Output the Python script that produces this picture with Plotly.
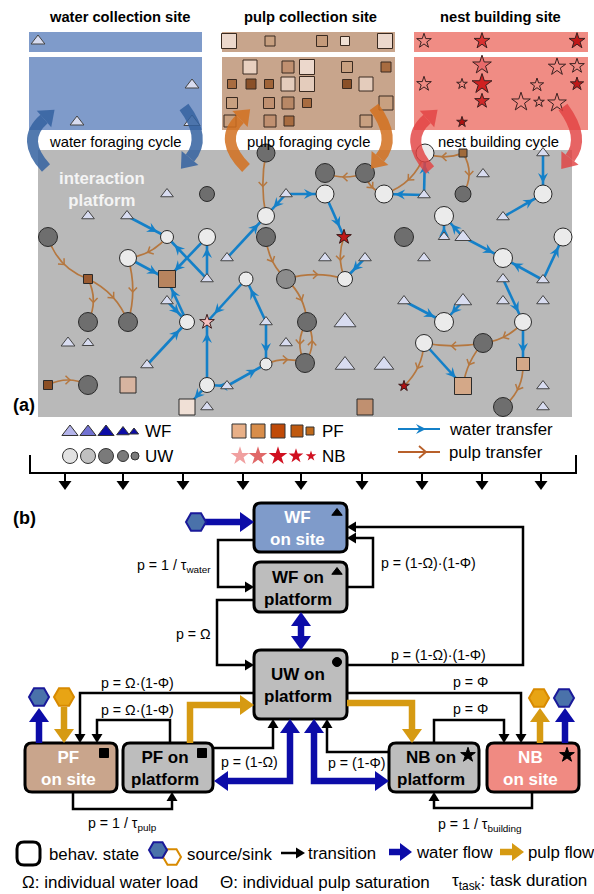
import math
import plotly.graph_objects as go

FONT = "Liberation Sans, Arial, Helvetica, sans-serif"

# ---------------- panel (a): sites ----------------
SITE_TITLES = ["water collection site", "pulp collection site", "nest building site"]
SITE_TITLE_X = [119, 310, 500]
SITE_X0 = [29, 222, 414]
SITE_X1 = [202, 395, 588]
SITE_FILL = ["#7f9bca", "#c8a58c", "#f08c84"]
CYCLE_LABELS = ["water foraging cycle", "pulp foraging cycle", "nest building cycle"]
CYCLE_LABEL_X = [115, 308, 498]
CYCLE_COLORS = ["rgba(52,98,160,0.85)", "rgba(210,112,30,0.85)", "rgba(226,66,66,0.82)"]
# (start, control, end) of each curved cycle arrow
CYCLE_ARROWS = [
    ((46, 168), (20, 140), (44, 119), 0), ((184, 107), (207, 138), (190, 158), 0),
    ((246, 168), (218, 140), (240, 119), 1), ((374, 107), (397, 138), (380, 158), 1),
    ((430, 170), (403, 140), (427, 119), 2), ((563, 107), (586, 138), (570, 158), 2),
]

SITE_TRI = [(38, 41, 12), (192, 85, 12), (77, 122, 12), (192, 122, 14)]
SITE_SQ = [
    (229, 41, 15, "#ecd8cc"), (270, 41, 10, "#c8a080"), (322, 41, 11, "#c49a7a"),
    (345, 41, 9, "#f0e0d4"), (385, 41, 15, "#ecd8cc"),
    (250, 67, 14, "#e8d0c0"), (288, 67, 12, "#c09070"), (232, 84, 9, "#a86c40"),
    (251, 84, 10, "#8a5028"), (269, 84, 9, "#a06438"), (288, 84, 14, "#e4ccbc"),
    (232, 103, 11, "#c8a080"), (269, 103, 11, "#c09070"), (288, 103, 12, "#b88866"),
    (230, 121, 12, "#c8a080"), (270, 121, 12, "#c09070"), (289, 121, 10, "#a86c40"),
    (307, 67, 15, "#ecd8cc"), (347, 67, 11, "#c8a080"), (386, 67, 10, "#a86c40"),
    (307, 84, 15, "#e4ccbc"), (347, 84, 9, "#8a5028"), (366, 84, 14, "#e4ccbc"),
    (307, 103, 9, "#a86c40"), (386, 103, 14, "#c8a080"), (366, 121, 12, "#c8a080"),
]
SITE_STARS = [
    (424, 41, 11, None), (482, 41, 12, "#d83030"), (577, 41, 12, "#c01818"),
    (482, 65, 14, "#e86a6a"), (557, 67, 13, None), (577, 66, 11, None),
    (424, 84, 11, None), (462, 84, 8, None), (482, 84, 15, "#d02020"),
    (537, 85, 10, None), (577, 84, 10, "#c01818"), (482, 101, 11, "#d02828"),
    (521, 102, 14, None), (539, 102, 8, None), (557, 103, 14, None),
    (462, 122, 8, "#b01010"),
]

# ---------------- panel (a): interaction platform ----------------
PLAT_TRI = [
    (167, 194, 11), (88, 216, 11), (127, 216, 11), (227, 258, 11), (207, 279, 11),
    (167, 301, 11), (266, 322, 11), (68, 343, 12), (88, 343, 10), (286, 343, 11),
    (147, 365, 11), (227, 386, 11), (207, 407, 11), (286, 194, 11), (483, 174, 11),
    (543, 153, 11), (424, 195, 11), (503, 217, 11), (444, 237, 10), (463, 237, 14),
    (325, 258, 11), (365, 258, 11), (424, 258, 11), (503, 279, 11), (543, 280, 11),
    (404, 301, 11), (463, 301, 15), (503, 301, 11), (543, 301, 11), (345, 322, 19),
    (345, 365, 17), (384, 365, 17), (543, 386, 11), (543, 407, 11),
]
PLAT_LIGHT = [
    (167, 237, 13), (207, 237, 17), (128, 258, 17), (246, 279, 14), (187, 322, 15),
    (266, 364, 12), (207, 385, 15), (266, 216, 17), (325, 194, 18), (384, 194, 18),
    (425, 153, 18), (543, 194, 18), (444, 216, 19), (563, 237, 18), (503, 258, 19),
    (345, 279, 15), (444, 322, 19), (523, 322, 17), (424, 343, 17),
]
PLAT_DARK = [
    (207, 194, 15), (48, 237, 19), (88, 322, 19), (128, 322, 19), (88, 385, 19),
    (266, 153, 18), (266, 237, 19), (307, 322, 19), (305, 363, 19), (325, 173, 19),
    (365, 173, 19), (463, 194, 16), (404, 237, 19), (483, 343, 19), (503, 407, 19),
]
PLAT_MID = [(286, 279, 19)]
PLAT_SQ = [
    (88, 279, 9, "#9a5a30"), (167, 279, 17, "#b8845e"), (48, 385, 9, "#8b4f25"),
    (128, 385, 16, "#d7b4a0"), (187, 407, 16, "#f0e0d6"), (463, 153, 8, "#a06a3a"),
    (523, 364, 13, "#d4a888"), (463, 386, 17, "#d4a888"), (365, 407, 16, "#c09070"),
]
PLAT_STARS = [(207, 322, 11, "#f7c0c0"), (344, 237, 11, "#c01818"), (404, 386, 8, "#b01010")]

WATER_EDGES = [
    (127, 216, 167, 237), (207, 279, 167, 237), (207, 237, 167, 279), (207, 279, 207, 237),
    (128, 258, 167, 279), (187, 322, 167, 279), (167, 301, 187, 322), (147, 365, 187, 322),
    (246, 279, 207, 322), (266, 322, 246, 279), (266, 322, 266, 364), (207, 385, 207, 322),
    (227, 386, 266, 364), (227, 386, 207, 385), (207, 385, 187, 407), (227, 258, 266, 216),
    (286, 194, 266, 216), (286, 194, 325, 194), (325, 194, 344, 237), (365, 258, 345, 279),
    (424, 195, 384, 194), (424, 195, 425, 153), (543, 153, 543, 194), (503, 217, 543, 194),
    (444, 237, 444, 216), (463, 237, 444, 216), (463, 237, 503, 258), (543, 280, 503, 258),
    (543, 280, 563, 237), (503, 279, 523, 322), (404, 301, 444, 322), (463, 301, 444, 322),
    (424, 343, 463, 386), (523, 322, 523, 364),
]
# (x0, y0, x1, y1, bend)
PULP_EDGES = [
    (48, 237, 88, 279, 0.25), (88, 279, 88, 322, -0.25), (88, 279, 128, 322, -0.2),
    (167, 237, 128, 258, -0.2), (128, 258, 128, 322, -0.15), (266, 153, 266, 216, 0.1),
    (266, 237, 286, 279, 0.2), (286, 279, 307, 322, -0.2), (286, 279, 345, 279, -0.15),
    (344, 237, 345, 279, 0.2), (365, 173, 325, 173, -0.2), (365, 173, 384, 194, 0.3),
    (425, 153, 384, 194, -0.25), (463, 153, 425, 153, -0.2), (463, 153, 463, 194, -0.3),
    (523, 322, 483, 343, -0.2), (483, 343, 424, 343, -0.1), (483, 343, 463, 386, 0.15),
    (424, 343, 404, 386, -0.2), (523, 364, 503, 407, -0.25), (48, 385, 88, 385, -0.25),
    (266, 364, 305, 363, -0.2), (307, 322, 305, 363, 0.3), (305, 363, 307, 322, 0.3),
]

# legend of (a)
LEG_TRI = [(70, 14, "#b4b4ea"), (88, 14, "#7272d2"), (106, 14, "#0c0ca6"), (123, 11, "#0c0ca6"), (134, 8, "#0c0ca6")]
LEG_CIRC = [(70, 15, "#e2e2e2"), (88, 15, "#c0c0c0"), (106, 15, "#7a7a7a"), (123, 11, "#7a7a7a"), (135, 8, "#7a7a7a")]
LEG_SQ = [(239, 14, "#e8b088"), (258, 14, "#d88d4a"), (278, 14, "#c04a08"), (297, 12, "#c05a10"), (310, 8, "#c06a1a")]
LEG_STAR = [(240, 14, "#f0a0a0"), (258, 14, "#e06868"), (278, 14, "#d01020"), (296, 11, "#d01020"), (311, 8, "#d01020")]
BRACKET_X = [65, 123, 183, 243, 301, 362, 422, 482, 541]

# ---------------- panel (b) ----------------
BOXES = [
    ("WF<br>on site", 254, 503, 347, 552, "#7f9bca", "white", "triangle-up", 337, 513),
    ("WF on<br>platform", 254, 562, 347, 612, "#bdbdbd", "black", "triangle-up", 337, 572),
    ("UW on<br>platform", 254, 650, 347, 719, "#bdbdbd", "black", "circle", 337, 662),
    ("PF<br>on site", 25, 743, 117, 792, "#c9a58c", "white", "square", 104, 753),
    ("PF on<br>platform", 123, 743, 213, 792, "#bdbdbd", "black", "square", 202, 753),
    ("NB on<br>platform", 389, 743, 479, 792, "#bdbdbd", "black", "star", 468, 755),
    ("NB<br>on site", 487, 743, 579, 792, "#f08a82", "white", "star", 567, 755),
]
TRANSITIONS = [
    [(254, 540), (218, 540), (218, 587), (254, 587)],
    [(254, 600), (217, 600), (217, 665), (254, 665)],
    [(347, 587), (373, 587), (373, 538), (347, 538)],
    [(347, 665), (523, 665), (523, 527), (347, 527)],
    [(254, 693), (80, 693), (80, 743)],
    [(170, 743), (170, 720), (97, 720), (97, 743)],
    [(213, 748), (273, 748), (273, 719)],
    [(73, 792), (73, 809), (172, 809), (172, 792)],
    [(347, 693), (521, 693), (521, 743)],
    [(434, 743), (434, 720), (504, 720), (504, 743)],
    [(389, 752), (327, 752), (327, 719)],
    [(532, 792), (532, 808), (434, 808), (434, 792)],
]
T_LABELS = [
    ("p = 1 / τ<sub>water</sub>", 213, 566, "right"), ("p = Ω", 213, 634, "right"),
    ("p = (1-Ω)·(1-Φ)", 379, 563, "left"), ("p = (1-Ω)·(1-Φ)", 389, 655, "left"),
    ("p = Ω·(1-Φ)", 99, 683, "left"), ("p = Ω·(1-Φ)", 99, 710, "left"),
    ("p = Φ", 451, 682, "left"), ("p = Φ", 451, 709, "left"),
    ("p = (1-Ω)", 219, 762, "left"), ("p = (1-Φ)", 326, 763, "left"),
    ("p = 1 / τ<sub>pulp</sub>", 86, 824, "left"), ("p = 1 / τ<sub>building</sub>", 436, 825, "left"),
]
WATER_FLOWS = [
    ([(205, 522), (254, 522)], False),
    ([(301, 612), (301, 650)], True),
    ([(214, 781), (290, 781), (290, 719)], True),
    ([(314, 719), (314, 781), (389, 781)], True),
    ([(39, 743), (39, 708)], False),
    ([(565, 743), (565, 708)], False),
]
PULP_FLOWS = [
    ([(64, 707), (64, 743)], False),
    ([(190, 743), (190, 705), (254, 705)], False),
    ([(347, 703), (412, 703), (412, 743)], False),
    ([(540, 743), (540, 708)], False),
]
HEX_BLUE = [(196, 522), (39, 697), (564, 698)]
HEX_ORANGE = [(64, 697), (539, 698)]

BLUE = "#1480c8"
BROWN = "#b5773f"
NAVY = "#0c0ca8"
GOLD = "#d69a12"

shapes = []
annotations = []
traces = []


def unit(dx, dy):
    l = math.hypot(dx, dy)
    return dx / l, dy / l


def pstr(pts, close=False):
    s = "M " + " L ".join(f"{x:.2f},{y:.2f}" for x, y in pts)
    return s + (" Z" if close else "")


def add_path(d, color=None, width=0, fill=None, layer="below"):
    shp = dict(type="path", path=d, xref="x", yref="y", layer=layer,
               line=dict(color=color if color else "rgba(0,0,0,0)", width=width))
    if fill:
        shp["fillcolor"] = fill
    shapes.append(shp)


def add_rect(x0, y0, x1, y1, fill, layer="below"):
    shapes.append(dict(type="rect", x0=x0, y0=y0, x1=x1, y1=y1, xref="x", yref="y",
                       fillcolor=fill, line=dict(width=0), layer=layer))


def head_pts(tip, u, L, hw, notch=None):
    tx, ty = tip
    ux, uy = u
    nx, ny = -uy, ux
    bx, by = tx - L * ux, ty - L * uy
    pts = [(tx, ty), (bx + hw * nx, by + hw * ny)]
    if notch is not None:
        pts.append((tx - notch * L * ux, ty - notch * L * uy))
    pts.append((bx - hw * nx, by - hw * ny))
    return pts


def chevron(tip, u, L, hw, color, width):
    p = head_pts(tip, u, L, hw)
    add_path(pstr([p[1], p[0], p[2]]), color, width)


def poly_arrow(points, color, width, L, hw, both=False, layer="below"):
    pts = list(points)
    (x0, y0), (x1, y1) = pts[-2], pts[-1]
    u = unit(x1 - x0, y1 - y0)
    add_path(pstr(head_pts((x1, y1), u, L, hw), True), None, 0, color, layer)
    pts[-1] = (x1 - 0.9 * L * u[0], y1 - 0.9 * L * u[1])
    if both:
        (x0, y0), (x1, y1) = pts[1], points[0]
        u = unit(x1 - x0, y1 - y0)
        add_path(pstr(head_pts((x1, y1), u, L, hw), True), None, 0, color, layer)
        pts[0] = (x1 - 0.9 * L * u[0], y1 - 0.9 * L * u[1])
    add_path(pstr(pts), color, width, None, layer)


def text(x, y, t, size, color="black", bold=False, xanchor="center"):
    annotations.append(dict(x=x, y=y, xref="x", yref="y", text=f"<b>{t}</b>" if bold else t,
                            showarrow=False, xanchor=xanchor, yanchor="middle",
                            font=dict(family=FONT, size=size, color=color)))


def markers(xs, ys, symbol, sizes, fills, line_color="#333333", lw=1):
    traces.append(go.Scatter(x=xs, y=ys, mode="markers", hoverinfo="skip",
                             marker=dict(symbol=symbol, size=sizes, color=fills, opacity=1,
                                         line=dict(color=line_color, width=lw))))


# --- sites
for i in range(3):
    add_rect(SITE_X0[i], 32, SITE_X1[i], 52, SITE_FILL[i])
    add_rect(SITE_X0[i], 57, SITE_X1[i], 130, SITE_FILL[i])
    text(SITE_TITLE_X[i], 17, SITE_TITLES[i], 14.7, bold=True)
    text(CYCLE_LABEL_X[i], 142, CYCLE_LABELS[i], 14.8)

markers([p[0] for p in SITE_TRI], [p[1] for p in SITE_TRI], "triangle-up",
        [p[2] for p in SITE_TRI], "#d8dcf0", "#444444")
markers([p[0] for p in SITE_SQ], [p[1] for p in SITE_SQ], "square",
        [p[2] for p in SITE_SQ], [p[3] for p in SITE_SQ], "#3a2a20")
markers([p[0] for p in SITE_STARS], [p[1] for p in SITE_STARS], "star",
        [p[2] for p in SITE_STARS], [p[3] if p[3] else "rgba(0,0,0,0)" for p in SITE_STARS], "#3a2020")

# --- platform
add_rect(38, 150, 572, 417, "#b9b9b9")
text(57, 189, "interaction<br>platform", 16.8, "#f4f4f4", True, "left")

for x0, y0, x1, y1 in WATER_EDGES:
    u = unit(x1 - x0, y1 - y0)
    add_path(pstr([(x0, y0), (x1, y1)]), BLUE, 2.6)
    tip = (x1 - 11 * u[0], y1 - 11 * u[1])
    add_path(pstr(head_pts(tip, u, 10, 5, 0.65), True), None, 0, BLUE)

for x0, y0, x1, y1, b in PULP_EDGES:
    dx, dy = x1 - x0, y1 - y0
    cx = (x0 + x1) / 2 - b * dy
    cy = (y0 + y1) / 2 + b * dx
    add_path(f"M {x0},{y0} Q {cx:.2f},{cy:.2f} {x1},{y1}", BROWN, 1.7)
    mx = 0.25 * x0 + 0.5 * cx + 0.25 * x1
    my = 0.25 * y0 + 0.5 * cy + 0.25 * y1
    u = unit(dx, dy)
    chevron((mx + 2 * u[0], my + 2 * u[1]), u, 4.5, 4.2, BROWN, 1.5)

markers([p[0] for p in PLAT_TRI], [p[1] for p in PLAT_TRI], "triangle-up",
        [p[2] for p in PLAT_TRI], "#d8dcf0", "#444444")
markers([p[0] for p in PLAT_DARK], [p[1] for p in PLAT_DARK], "circle",
        [p[2] for p in PLAT_DARK], "#6e6e6e", "#2a2a2a")
markers([p[0] for p in PLAT_MID], [p[1] for p in PLAT_MID], "circle",
        [p[2] for p in PLAT_MID], "#8c8c8c", "#2a2a2a")
markers([p[0] for p in PLAT_LIGHT], [p[1] for p in PLAT_LIGHT], "circle",
        [p[2] for p in PLAT_LIGHT], "#ebebeb", "#2a2a2a")
markers([p[0] for p in PLAT_SQ], [p[1] for p in PLAT_SQ], "square",
        [p[2] for p in PLAT_SQ], [p[3] for p in PLAT_SQ], "#2a2a2a")
markers([p[0] for p in PLAT_STARS], [p[1] for p in PLAT_STARS], "star",
        [p[2] for p in PLAT_STARS], [p[3] for p in PLAT_STARS], "#3a1a1a")

# cycle arrows (above everything on the platform)
for p0, c, p1, k in CYCLE_ARROWS:
    col = CYCLE_COLORS[k]
    add_path(f"M {p0[0]},{p0[1]} Q {c[0]},{c[1]} {p1[0]},{p1[1]}", col, 11, None, "above")
    u = unit(p1[0] - c[0], p1[1] - c[1])
    tip = (p1[0] + 14 * u[0], p1[1] + 14 * u[1])
    add_path(pstr(head_pts(tip, u, 14, 11), True), None, 0, col, "above")

# legend of (a)
text(24, 405, "(a)", 18, bold=True)
markers([p[0] for p in LEG_TRI], [432] * 5, "triangle-up", [p[1] for p in LEG_TRI],
        [p[2] for p in LEG_TRI], "#333333")
markers([p[0] for p in LEG_CIRC], [456] * 5, "circle", [p[1] for p in LEG_CIRC],
        [p[2] for p in LEG_CIRC], "#333333")
markers([p[0] for p in LEG_SQ], [431] * 5, "square", [p[1] for p in LEG_SQ],
        [p[2] for p in LEG_SQ], "#333333")
markers([p[0] for p in LEG_STAR], [456] * 5, "star", [p[1] for p in LEG_STAR],
        [p[2] for p in LEG_STAR], "rgba(0,0,0,0)", 0)
text(143, 431, "WF", 17, xanchor="left")
text(143, 456, "UW", 17, xanchor="left")
text(320, 431, "PF", 17, xanchor="left")
text(320, 456, "NB", 17, xanchor="left")
add_path(pstr([(398, 429), (440, 429)]), BLUE, 2.2)
add_path(pstr(head_pts((426, 429), (1, 0), 10, 5, 0.65), True), None, 0, BLUE)
add_path(pstr([(398, 452), (440, 452)]), "#b8602a", 2.2)
chevron((426, 452), (1, 0), 7, 6, "#b8602a", 1.8)
text(447, 429, "water transfer", 16.8, xanchor="left")
text(447, 452, "pulp transfer", 16.8, xanchor="left")

# bracket
add_path(pstr([(30, 455), (30, 473), (576, 473), (576, 455)]), "black", 2)
for bx in BRACKET_X:
    poly_arrow([(bx, 473), (bx, 490)], "black", 2, 9, 6.5)

# ---------------- panel (b) drawing ----------------
text(24, 518, "(b)", 18, bold=True)
r = 7
for lab, x0, y0, x1, y1, fill, tc, sym, ix, iy in BOXES:
    d = (f"M {x0+r},{y0} L {x1-r},{y0} Q {x1},{y0} {x1},{y0+r} L {x1},{y1-r} "
         f"Q {x1},{y1} {x1-r},{y1} L {x0+r},{y1} Q {x0},{y1} {x0},{y1-r} "
         f"L {x0},{y0+r} Q {x0},{y0} {x0+r},{y0} Z")
    add_path(d, "black", 3, fill)
    text((x0 + x1) / 2 - 3, (y0 + y1) / 2 + 1, lab, 17, tc, True)
markers([b[8] for b in BOXES], [b[9] for b in BOXES], [b[7] for b in BOXES],
        [9 if b[7] != "star" else 11 for b in BOXES], "#000000", "#000000", 1)

for pts in TRANSITIONS:
    poly_arrow(pts, "black", 2.5, 9, 5.5)
for t, x, y, a in T_LABELS:
    text(x, y, t, 14.2, xanchor=a)

for pts, both in WATER_FLOWS:
    poly_arrow(pts, NAVY, 6.5, 14, 10, both)
for pts, both in PULP_FLOWS:
    poly_arrow(pts, GOLD, 6.5, 14, 10, both)

markers([h[0] for h in HEX_BLUE], [h[1] for h in HEX_BLUE], "hexagon2", 20, "#4a72aa", "#1a1a9a", 2)
markers([h[0] for h in HEX_ORANGE], [h[1] for h in HEX_ORANGE], "hexagon2", 20, "#e8a414", "#d88a00", 2)

# bottom legend
x0, y0, x1, y1 = 17, 842, 40, 865
add_path(f"M {x0+r},{y0} L {x1-r},{y0} Q {x1},{y0} {x1},{y0+r} L {x1},{y1-r} "
         f"Q {x1},{y1} {x1-r},{y1} L {x0+r},{y1} Q {x0},{y1} {x0},{y1-r} "
         f"L {x0},{y0+r} Q {x0},{y0} {x0+r},{y0} Z", "black", 3, "white")
text(47, 854, "behav. state", 16.8, xanchor="left")
markers([172], [857], "hexagon2", 18, "white", "#d88a00", 2)
markers([158], [850], "hexagon2", 18, "#4a72aa", "#1a1a9a", 2)
text(185, 854, "source/sink", 16.8, xanchor="left")
poly_arrow([(281, 853), (305, 853)], "black", 2.5, 9, 5.5)
text(306, 853, "transition", 16.8, xanchor="left")
poly_arrow([(389, 852), (412, 852)], NAVY, 6.5, 12, 9)
text(414, 852, "water flow", 16.8, xanchor="left")
poly_arrow([(500, 852), (524, 852)], GOLD, 6.5, 12, 9)
text(526, 852, "pulp flow", 16.8, xanchor="left")
text(20, 882, "Ω: individual water load", 17, xanchor="left")
text(218, 882, "Θ: individual pulp saturation", 17, xanchor="left")
text(450, 882, "τ<sub>task</sub>: task duration", 17, xanchor="left")

fig = go.Figure(data=traces)
fig.update_layout(
    width=594, height=894, margin=dict(l=0, r=0, t=0, b=0),
    paper_bgcolor="white", plot_bgcolor="white", showlegend=False,
    xaxis=dict(range=[0, 594], visible=False, fixedrange=True),
    yaxis=dict(range=[894, 0], visible=False, fixedrange=True),
    shapes=shapes, annotations=annotations,
    font=dict(family=FONT),
)
fig.write_html("out.html", post_script="document.body.style.margin='0px';",
               config={"displayModeBar": False})
